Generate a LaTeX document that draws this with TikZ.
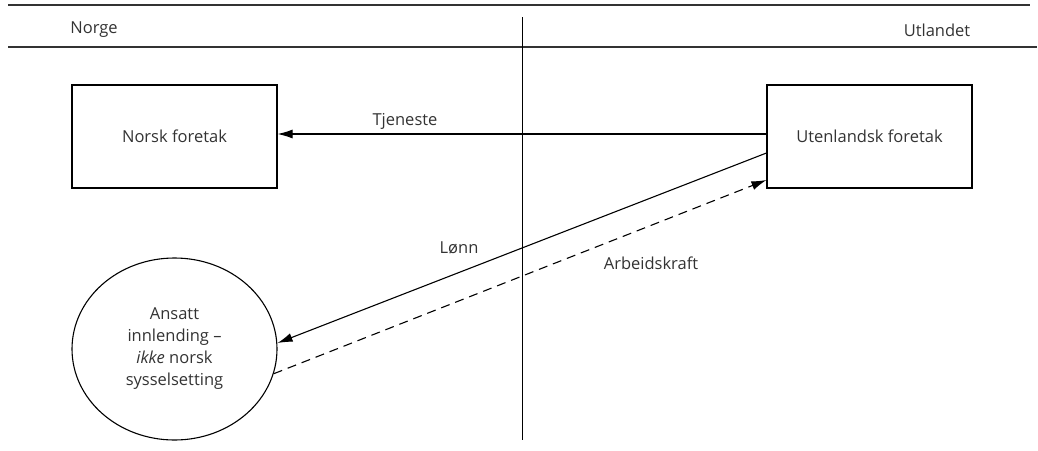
\documentclass[tikz,border=0pt]{standalone}
\usepackage{fontspec}
\setmainfont{Open Sans}
\usetikzlibrary{arrows.meta,positioning,shapes.geometric}

\begin{document}
\begin{tikzpicture}[x=1pt,y=-1pt,>={Latex[length=15pt,width=9pt]},
txt/.style={font=\fontsize{16.5}{22}\selectfont,text=black!80},
box/.style={draw=black,line width=1.1pt,minimum width=205pt,minimum height=103pt,inner sep=0pt,txt},
party/.style={ellipse,draw=black,line width=1.1pt,minimum width=205pt,minimum height=182pt,inner sep=0pt,align=center,txt},
rule/.style={draw=black!80,line width=1.4pt},
flow/.style={->,draw=black,line width=1.1pt},
workflow/.style={flow,dashed,dash pattern=on 9pt off 6pt},
lab/.style={txt,inner sep=0pt}]
\useasboundingbox (0,0) rectangle (1038,450);
% header
\draw[rule] (8,5) -- (1030,5);
\draw[rule] (8,47) -- (1037,47);
\node[lab] (norge) at (94,30) {Norge};
\node[lab] (utland) at (937,30) {Utlandet};
\coordinate (bordertop) at (522,17);
\coordinate (borderbot) at (522,440);
\draw[draw=black,line width=1pt] (bordertop) -- (borderbot);
% actors
\node[box] (norsk) at (174.5,136.5) {Norsk foretak};
\node[box] (ut) at (869.5,136.5) {Utenlandsk foretak};
\node[party] (ans) at (174.5,349) {Ansatt\\innlending --\\\textit{ikke} norsk\\sysselsetting};
% flows
\draw[flow] ([yshift=2.5pt]ut.west) -- ([yshift=2.5pt]norsk.east);
\draw[flow] ([yshift=-16.5pt]ut.west) -- ([yshift=6pt]ans.east);
\draw[workflow] (ans.-14) -- ([yshift=-43.5pt]ut.west);
\node[lab] (tjeneste) at (405,121) {Tjeneste};
\node[lab] (lonn) at (459,248) {Lønn};
\node[lab] (arbeid) at (651,263) {Arbeidskraft};
\end{tikzpicture}
\end{document}
